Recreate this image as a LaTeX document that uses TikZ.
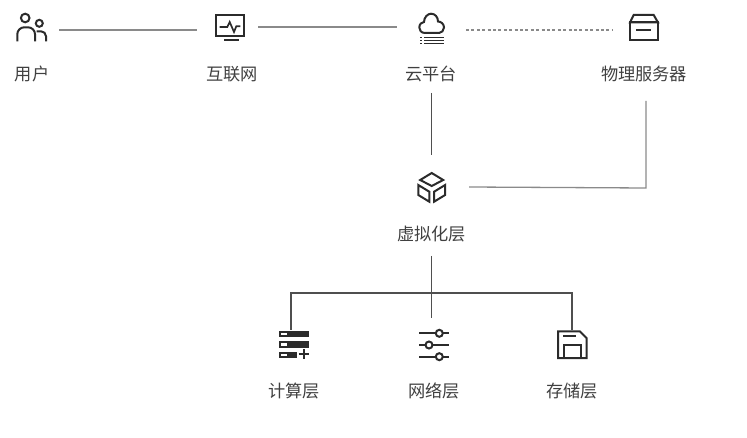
\documentclass[tikz,border=0pt]{standalone}
\usepackage{fontspec}
\setmainfont{Noto Sans CJK SC}
\usepackage{xcolor}
\usetikzlibrary{positioning, calc}
\definecolor{inkdark}{HTML}{2B2B2B}
\definecolor{linkgray}{HTML}{8A8A8A}
\definecolor{treegray}{HTML}{4F4F4F}
\definecolor{labelgray}{HTML}{404040}

\tikzset{
  iconline/.style={draw=inkdark, line width=2pt, line join=miter},
  pics/usericon/.style={code={
    \draw[iconline] (-6.8,-11) circle (4.3);
    \draw[iconline] (7.3,-5.7) circle (3.5);
    \draw[iconline, rounded corners=7pt] (-14.7,12.3) -- (-14.7,-1.7) -- (3,-1.7) -- (3,12.3);
    \draw[iconline, rounded corners=5pt] (4.7,2.3) -- (14,2.3) -- (14,12.3);
  }},
  pics/neticon/.style={code={
    \draw[iconline] (-14.3,-12) rectangle (13.7,9.3);
    \draw[iconline] (-6,13) -- (8.7,13);
    \draw[iconline, line width=1.7pt] (-10.3,0) -- (-2.7,0) -- (-0.3,-5) -- (4,5) -- (6.3,-0.7) -- (10.3,-0.7);
  }},
  pics/cloudicon/.style={code={
    \draw[iconline] (-6,4) .. controls (-10,4) and (-11.7,1) .. (-11.7,-1.5)
      .. controls (-11.7,-5) and (-9,-7) .. (-7,-7)
      .. controls (-7,-12) and (-3,-15.3) .. (0,-15.3)
      .. controls (4,-15.3) and (7,-12) .. (7,-7.5)
      .. controls (10,-7.5) and (13,-5) .. (13,-1.5)
      .. controls (13,1.5) and (10.5,4) .. (8,4) -- cycle;
    \foreach \ybar in {8.3,11.3,14.3} {
      \draw[iconline, line width=1.5pt] (-11,\ybar) -- (-9.5,\ybar);
      \draw[iconline, line width=1.5pt] (-7,\ybar) -- (13,\ybar);
    }
  }},
  pics/boxicon/.style={code={
    \draw[iconline] (-10.3,-13) -- (9.7,-13) -- (14,-5.5) -- (-14,-5.5) -- cycle;
    \draw[iconline] (-14,-5.5) rectangle (14,12.5);
    \draw[iconline] (-8,1.7) -- (7.3,1.7);
  }},
  pics/cubeicon/.style={code={
    \draw[iconline] (0,-14) -- (11.5,-7) -- (0,-1) -- (-11.5,-7) -- cycle;
    \draw[iconline] (-13.4,-2) -- (-2.4,4.7) -- (-2.4,14.7) -- (-13.4,8) -- cycle;
    \draw[iconline] (13.4,-2) -- (2.4,4.7) -- (2.4,14.7) -- (13.4,8) -- cycle;
  }},
  pics/servericon/.style={code={
    \fill[inkdark] (-15,-13.5) rectangle (15,-7);
    \fill[inkdark] (-15,-3.5) rectangle (15,3);
    \fill[inkdark] (-15,7) rectangle (2.7,13.5);
    \foreach \yhole in {-11.5,-1.5,9} {
      \fill[white] (-13,\yhole) rectangle (-7.5,\yhole+2.5);
    }
    \draw[iconline] (4.5,9.5) -- (14.5,9.5);
    \draw[iconline] (9.5,4.5) -- (9.5,14.5);
  }},
  pics/slidericon/.style={code={
    \foreach \ybar/\xknob in {-11.7/5.3, 0/-5, 11.7/5.3} {
      \draw[iconline] (-15,\ybar) -- (14.7,\ybar);
      \draw[iconline, fill=white] (\xknob,\ybar) circle (3.5);
    }
  }},
  pics/diskicon/.style={code={
    \draw[iconline] (-14,-13.5) -- (8,-13.5) -- (14.5,-7) -- (14.5,13) -- (-14,13) -- cycle;
    \draw[iconline] (-9,-8.5) -- (4,-8.5);
    \draw[iconline] (-8.5,13) -- (-8.5,0) -- (8.5,0) -- (8.5,13);
  }}
}

\begin{document}
\begin{tikzpicture}[
    x=1pt, y=-1pt,
    every node/.style={inner sep=0pt, outer sep=0pt},
    icon/.style={minimum width=56pt, minimum height=56pt},
    caption/.style={font=\fontsize{17.2}{20}\selectfont, text=labelgray, minimum height=38pt},
    link/.style={draw=linkgray, line width=1.3pt},
    dashlink/.style={draw=linkgray, line width=1.1pt, dash pattern=on 3pt off 2.4pt},
    treelink/.style={draw=treegray, line width=1.2pt}
  ]
  \useasboundingbox (0,0) rectangle (747,438);

  % top row
  \node[icon] (user)    at (32,29)  {};
  \node[icon] (net)     at (230,27) {};
  \node[icon] (cloud)   at (431,29) {};
  \node[icon] (server)  at (644,28) {};
  \node[caption] (userlabel)   at ($(user)+(0,45)$)   {用户};
  \node[caption] (netlabel)    at ($(net)+(2,47)$)    {互联网};
  \node[caption] (cloudlabel)  at ($(cloud)+(0,45)$)  {云平台};
  \node[caption] (serverlabel) at ($(server)+(0,46)$) {物理服务器};

  % middle
  \node[icon] (virt) at (431.7,187) {};
  \node[caption] (virtlabel) at ($(virt)+(0,47)$) {虚拟化层};

  % bottom row
  \node[icon] (compute) at (294,344.5) {};
  \node[icon] (network) at (434,345)   {};
  \node[icon] (storage) at (572,345)   {};
  \node[caption] (computelabel) at ($(compute)+(0,46.5)$) {计算层};
  \node[caption] (networklabel) at ($(network)+(0,46)$)   {网络层};
  \node[caption] (storagelabel) at ($(storage)+(0,46)$)   {存储层};

  % connectors
  \draw[link] (59,30) -- (197,30);
  \draw[link] (net.east) -- (397,27);
  \draw[dashlink] (466,30) -- (612,30);
  \draw[treelink, line width=1pt] (431.5,93) -- (431.5,155);
  \draw[link] (469,187) -- (646,188) -- (646,101);

  % tree to the three layers
  \coordinate (split) at (431.5,293);
  \draw[treelink] (431.5,256) -- (split);
  \draw[treelink, line width=1pt] (split) -- (431.5,318);
  \draw[treelink] (291,330) -- (291,293) -- (572,293) -- (572,330);

  % icons
  \pic at (user) {usericon};
  \pic at (net) {neticon};
  \pic at (cloud) {cloudicon};
  \pic at (server) {boxicon};
  \pic at (virt) {cubeicon};
  \pic at (compute) {servericon};
  \pic at (network) {slidericon};
  \pic at (storage) {diskicon};
\end{tikzpicture}
\end{document}
